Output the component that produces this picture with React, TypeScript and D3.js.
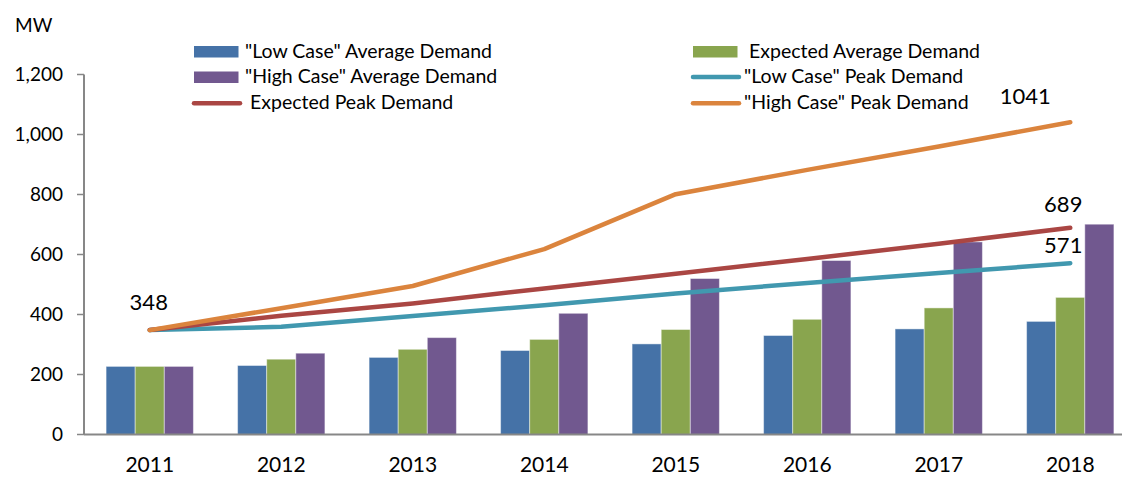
import React, { useEffect, useRef } from 'react';
import * as d3 from 'd3';

const years = ['2011', '2012', '2013', '2014', '2015', '2016', '2017', '2018'];

const lowAvg = [227, 230, 257, 280, 302, 330, 352, 377];
const expectedAvg = [227, 251, 284, 317, 350, 384, 422, 457];
const highAvg = [227, 271, 323, 404, 520, 580, 642, 701];

const lowPeak = [348, 359, 395, 431, 470, 505, 538, 571];
const expectedPeak = [348, 396, 437, 487, 536, 585, 636, 689];
const highPeak = [348, 421, 495, 618, 801, 882, 960, 1041];

const yTicks = [0, 200, 400, 600, 800, 1000, 1200];

const barSeries = [
  { name: '"Low Case" Average Demand', values: lowAvg, color: '#4572a7' },
  { name: 'Expected Average Demand', values: expectedAvg, color: '#89a54e' },
  { name: '"High Case" Average Demand', values: highAvg, color: '#71588f' },
];

const lineSeries = [
  { name: '"Low Case" Peak Demand', values: lowPeak, color: '#4198af' },
  { name: 'Expected Peak Demand', values: expectedPeak, color: '#aa4643' },
  { name: '"High Case" Peak Demand', values: highPeak, color: '#db843d' },
];

const FONT = 'Lato, "Open Sans", sans-serif';

const App = () => {
  const svgRef = useRef<SVGSVGElement | null>(null);

  useEffect(() => {
    const width = 1122;
    const left = 84;
    const right = 1136;
    const top = 74.5;
    const bottom = 434.5;

    const svg = d3.select(svgRef.current);
    svg.selectAll('*').remove();

    const x = d3.scaleBand<string>()
      .domain(years)
      .range([left, right])
      .paddingInner(0.336)
      .paddingOuter(0.168);

    const xs = d3.scaleBand<number>()
      .domain([0, 1, 2])
      .range([0, x.bandwidth()]);

    const y = d3.scaleLinear().domain([0, 1200]).range([bottom, top]);

    // bars
    barSeries.forEach((s, si) => {
      svg.append('g')
        .selectAll('rect')
        .data(s.values)
        .join('rect')
        .attr('x', (d, i) => (x(years[i]) as number) + (xs(si) as number))
        .attr('y', d => y(d))
        .attr('width', xs.bandwidth())
        .attr('height', d => y(0) - y(d))
        .attr('fill', s.color)
        .attr('stroke', 'rgba(255,255,255,0.45)')
        .attr('stroke-width', 1);
    });

    // axes
    const axisColor = '#878787';
    svg.append('line')
      .attr('x1', left).attr('x2', width + 20)
      .attr('y1', bottom).attr('y2', bottom)
      .attr('stroke', axisColor).attr('stroke-width', 2);
    svg.append('line')
      .attr('x1', left).attr('x2', left)
      .attr('y1', top).attr('y2', bottom)
      .attr('stroke', axisColor).attr('stroke-width', 2);

    svg.append('g')
      .selectAll('line')
      .data(yTicks)
      .join('line')
      .attr('x1', left - 7).attr('x2', left)
      .attr('y1', d => y(d)).attr('y2', d => y(d))
      .attr('stroke', axisColor).attr('stroke-width', 1.5);

    svg.append('g')
      .selectAll('text')
      .data(yTicks)
      .join('text')
      .attr('x', 63)
      .attr('y', d => y(d))
      .attr('dy', '0.36em')
      .attr('text-anchor', 'end')
      .style('font-family', FONT)
      .style('font-size', '19px')
      .style('fill', '#000')
      .text(d => d3.format(',')(d));

    svg.append('g')
      .selectAll('text')
      .data(years)
      .join('text')
      .attr('x', d => (x(d) as number) + x.bandwidth() / 2)
      .attr('y', 472)
      .attr('text-anchor', 'middle')
      .style('font-family', FONT)
      .style('font-size', '21px')
      .style('fill', '#000')
      .text(d => d);

    svg.append('text')
      .attr('x', 15).attr('y', 31.5)
      .style('font-family', FONT)
      .style('font-size', '19px')
      .text('MW');

    // lines
    const cx = (i: number) => (x(years[i]) as number) + x.bandwidth() / 2;
    const line = d3.line<number>()
      .x((d, i) => cx(i))
      .y(d => y(d));

    lineSeries.forEach(s => {
      svg.append('path')
        .datum(s.values)
        .attr('fill', 'none')
        .attr('stroke', s.color)
        .attr('stroke-width', 4.5)
        .attr('stroke-linecap', 'round')
        .attr('stroke-linejoin', 'round')
        .attr('d', line);
    });

    // value labels
    const last = years.length - 1;
    const labels = [
      { i: 0, v: lowPeak[0], dx: -1, dy: -20 },
      { i: last, v: highPeak[last], dx: -45, dy: -18 },
      { i: last, v: expectedPeak[last], dx: -7, dy: -16 },
      { i: last, v: lowPeak[last], dx: -7, dy: -10 },
    ];
    svg.append('g')
      .selectAll('text')
      .data(labels)
      .join('text')
      .attr('x', d => cx(d.i) + d.dx)
      .attr('y', d => y(d.v) + d.dy)
      .attr('text-anchor', 'middle')
      .style('font-family', FONT)
      .style('font-size', '22px')
      .style('fill', '#000')
      .text(d => String(d.v));

    // legend
    const legend = [
      { s: barSeries[0], kind: 'rect', lx: 194, ly: 51.5, tx: 245 },
      { s: barSeries[1], kind: 'rect', lx: 693, ly: 51.5, tx: 749 },
      { s: barSeries[2], kind: 'rect', lx: 194, ly: 77, tx: 245 },
      { s: lineSeries[0], kind: 'line', lx: 693, ly: 77, tx: 744 },
      { s: lineSeries[1], kind: 'line', lx: 194, ly: 103.3, tx: 250 },
      { s: lineSeries[2], kind: 'line', lx: 693, ly: 103.3, tx: 744 },
    ];
    const lg = svg.append('g');
    legend.forEach(item => {
      if (item.kind === 'rect') {
        lg.append('rect')
          .attr('x', item.lx).attr('y', item.ly - 5.5)
          .attr('width', 44.5).attr('height', 11.5)
          .attr('fill', item.s.color);
      } else {
        lg.append('line')
          .attr('x1', item.lx).attr('x2', item.lx + 46)
          .attr('y1', item.ly).attr('y2', item.ly)
          .attr('stroke', item.s.color)
          .attr('stroke-width', 4.5)
          .attr('stroke-linecap', 'round');
      }
      lg.append('text')
        .attr('x', item.tx)
        .attr('y', item.ly + 6)
        .style('font-family', FONT)
        .style('font-size', '19.5px')
        .style('fill', '#000')
        .text(item.s.name);
    });
  }, []);

  return (
    <svg
      ref={svgRef}
      width={1122}
      height={477}
      style={{ position: 'absolute', left: 0, top: 0, background: '#fff' }}
    />
  );
};

export default App;
